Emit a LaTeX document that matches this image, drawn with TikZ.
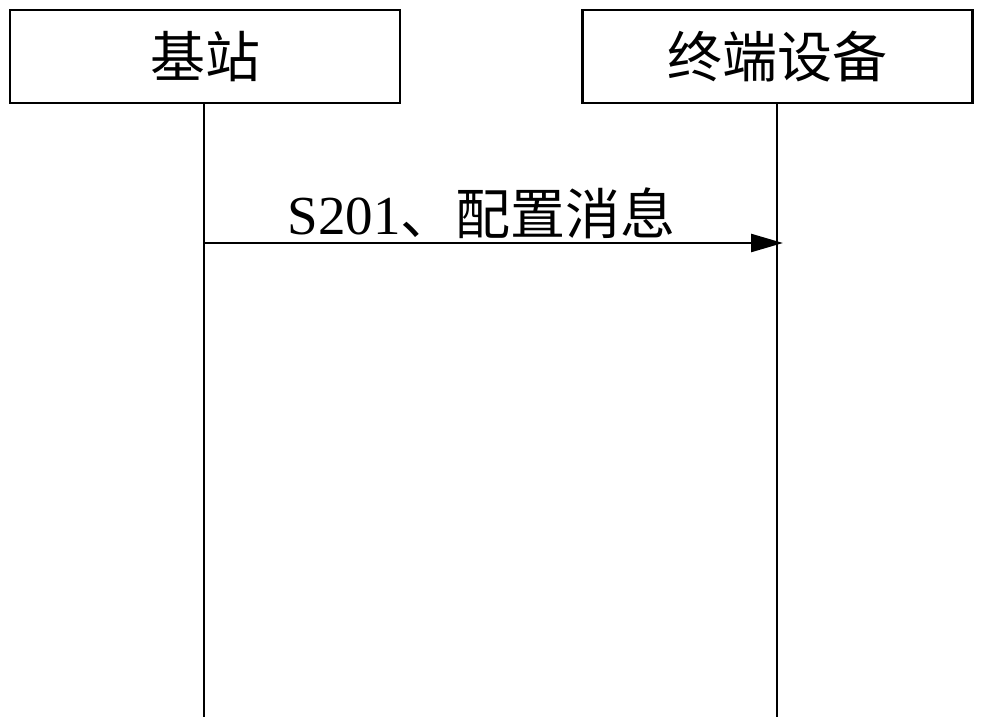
\documentclass[tikz,border=0pt]{standalone}
\usepackage{fontspec}
\setmainfont{Liberation Serif}
\newfontfamily\cjk{Noto Sans CJK SC}
\usetikzlibrary{arrows.meta}
\begin{document}
\begin{tikzpicture}[x=1pt,y=-1pt,
    party/.style={draw,line width=2.5pt,minimum width=390pt,minimum height=93pt,font=\fontsize{55}{60}\selectfont\cjk},
    life/.style={line width=2.5pt},
    msg/.style={line width=2.5pt,-{Triangle[length=32pt,width=18pt]}}]
    \useasboundingbox (0,0) rectangle (983,727);
    \node[party] (bs) at (205,56.5) {基站};
    \node[party] (ue) at (777.5,56.5) {终端设备};
    \coordinate (bsend) at (204,717);
    \coordinate (ueend) at (777,717);
    \draw[life] (bs.south -| bsend) -- (bsend);
    \draw[life] (ue.south -| ueend) -- (ueend);
    \coordinate (m1s) at (204,243);
    \coordinate (m1e) at (783,243);
    \draw[msg] (m1s) -- (m1e) node[midway,above=0pt,xshift=-12pt,font=\fontsize{55}{60}\selectfont] {S201{\cjk 、配置消息}};
\end{tikzpicture}
\end{document}
